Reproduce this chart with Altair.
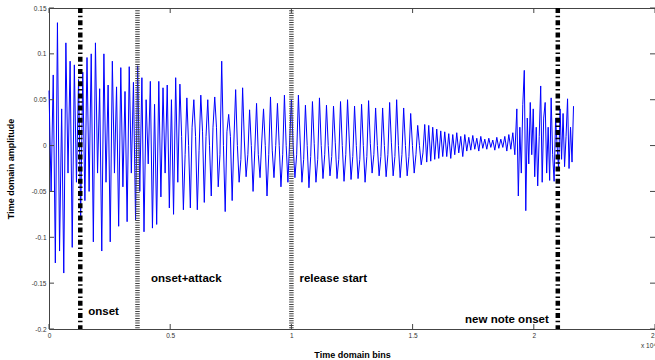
import altair as alt
import pandas as pd

# Waveform samples (amplitude) for each phase of the note.
# Each phase covers [start, end) in time-domain bins; its samples are evenly spaced inside it.
attack_amp = [
    0.060, -0.050, 0.077, -0.128, 0.134, -0.115, 0.040, -0.139, 0.112, -0.030,
    0.092, -0.111, 0.088, -0.040, 0.072, -0.079, 0.080, -0.060, 0.096, -0.050,
    0.100, -0.105, 0.112, -0.030, 0.062, -0.115, 0.100, -0.040, 0.066, -0.105,
    0.092, -0.030, 0.064, -0.088, 0.085, -0.045, 0.059, -0.083, 0.086, -0.030,
    0.069, -0.081, 0.087, -0.050, 0.074, -0.094, 0.050, -0.020, 0.070, -0.090,
    0.045, -0.086, 0.070, -0.056, 0.063, -0.030, 0.066, -0.068, 0.050, -0.075,
    0.074, -0.040,
]
sustain_amp = [
    0.067, 0.010, -0.070, -0.010,
    0.052, 0.000, -0.068, 0.020,
    0.050, 0.010, -0.070, -0.005,
    0.055, 0.015, -0.062, 0.010,
    0.050, 0.000, -0.055, 0.020,
    0.053, 0.020, -0.045, -0.010,
    0.092, 0.000, -0.072, 0.015,
    0.034, 0.010, -0.060, 0.005,
    0.061, 0.000, -0.040, -0.015,
    0.063, 0.005, -0.034, -0.010,
    0.039, 0.000, -0.050, -0.005,
    0.046, -0.010, -0.035, 0.005,
    0.040, 0.000, -0.055, -0.010,
    0.053, -0.005, -0.035, 0.000,
    0.046, 0.000, -0.045, -0.010,
    0.055, 0.000, -0.040, 0.005,
]
release_amp = [
    0.050, 0.000, -0.035, -0.010,
    0.055, 0.005, -0.040, -0.015,
    0.044, 0.000, -0.046, -0.012,
    0.048, 0.002, -0.040, -0.015,
    0.052, 0.000, -0.036, -0.010,
    0.044, 0.000, -0.033, -0.012,
    0.043, 0.003, -0.036, -0.015,
    0.048, 0.000, -0.039, -0.010,
    0.050, 0.005, -0.037, -0.012,
    0.043, 0.000, -0.036, -0.015,
    0.045, 0.000, -0.040, -0.012,
    0.049, 0.002, -0.030, -0.010,
    0.041, 0.000, -0.033, -0.012,
    0.041, 0.000, -0.034, -0.010,
    0.047, 0.003, -0.033, -0.012,
    0.050, 0.000, -0.035, -0.010,
    0.041, 0.000, -0.033, -0.012,
    0.035, 0.000, -0.030, -0.010,
    0.022, 0.000, -0.021, -0.008,
]
decay_amp = [
    0.023, -0.018, 0.022, -0.017, 0.020, -0.015, 0.018, -0.014, 0.016, -0.012,
    0.015, -0.012, 0.013, -0.014, 0.012, -0.010, 0.014, -0.008, 0.010, -0.012,
    0.012, -0.006, 0.009, -0.005, 0.011, -0.004, 0.008, -0.006, 0.010, -0.003,
    0.007, -0.004, 0.008, -0.002, 0.006, -0.005, 0.009, -0.003, 0.007, -0.002,
    0.010, -0.006, 0.012, -0.004, 0.014, -0.010,
]
next_note_amp = [
    0.040, -0.055, 0.020, -0.030, 0.045, 0.082, -0.071, 0.030, -0.020, 0.047,
    -0.010, 0.040, -0.034, 0.020, -0.044, 0.010, 0.065, -0.040, 0.030, 0.047,
    -0.030, 0.020, -0.038, 0.052, -0.010, -0.039, 0.030, 0.000, -0.025, 0.040,
    -0.015, 0.035, -0.023, 0.010, 0.051, -0.025, 0.020, -0.018, 0.043,
]
phase_start = [0, 5400, 10000, 15500, 19300]
phase_end = [5400, 10000, 15500, 19300, 21700]

# Detected events (time-domain bins) and their annotations
event_bin = [1290, 3650, 10000, 20990]
event_style = ["onset", "marker", "marker", "onset"]
event_label = ["onset", "onset+attack", "release start", "new note onset"]
label_level = [-0.185, -0.149, -0.149, -0.1935]

x_ticks = [0, 5000, 10000, 15000, 20000, 25000]
y_ticks = [-0.2, -0.15, -0.1, -0.05, 0, 0.05, 0.1, 0.15]

W, H = 606, 321
FONT = "Liberation Sans"

rows = []
for amps, s, e in zip(
    [attack_amp, sustain_amp, release_amp, decay_amp, next_note_amp],
    phase_start,
    phase_end,
):
    n = len(amps)
    for k, a in enumerate(amps):
        rows.append({"bin": s + (e - s) * k / n, "amp": a})
wave_df = pd.DataFrame(rows)

events_df = pd.DataFrame(
    {"bin": event_bin, "style": event_style, "label": event_label, "amp": label_level}
)

xs = alt.Scale(domain=[0, 25000], nice=False, zero=False)
ys = alt.Scale(domain=[-0.2, 0.15], nice=False, zero=False)

x_axis = alt.Axis(
    values=x_ticks,
    labelExpr="datum.value / 10000",
    title="Time domain bins",
    ticks=False,
    domain=False,
    grid=False,
    labelFlush=False,
    labelPadding=3,
    labelFontSize=6.5,
    labelColor="#333333",
    titleFontSize=9,
    titleFontWeight="bold",
    titleColor="black",
    titleX=W / 2,
    titleY=28,
    titleAlign="center",
    titleBaseline="alphabetic",
)
y_axis = alt.Axis(
    values=y_ticks,
    labelExpr="'' + datum.value",
    title="Time domain amplitude",
    ticks=False,
    domain=False,
    grid=False,
    labelFlush=False,
    labelPadding=3,
    labelFontSize=6.5,
    labelColor="#333333",
    titleFontSize=9,
    titleFontWeight="bold",
    titleColor="black",
    titleX=-34,
    titleY=H / 2,
    titleAlign="center",
    titleBaseline="bottom",
)
X = alt.X("bin:Q", scale=xs, axis=x_axis)
Y = alt.Y("amp:Q", scale=ys, axis=y_axis)

wave = alt.Chart(wave_df).mark_line(color="#0000ff", strokeWidth=1).encode(x=X, y=Y)

onset_lines = (
    alt.Chart(events_df)
    .transform_filter("datum.style == 'onset'")
    .mark_rule(color="black", strokeWidth=4.5, strokeDash=[5, 2.8, 1.5, 2.9])
    .encode(x=X, y=alt.value(0), y2=alt.value(H))
)
marker_lines = (
    alt.Chart(events_df)
    .transform_filter("datum.style == 'marker'")
    .mark_rule(color="#444444", strokeWidth=4.5, strokeDash=[1, 1.33])
    .encode(x=X, y=alt.value(0), y2=alt.value(H))
)


def event_text(labels, align, dx):
    return (
        alt.Chart(events_df)
        .transform_filter(alt.FieldOneOfPredicate(field="label", oneOf=labels))
        .mark_text(
            align=align, baseline="alphabetic", dx=dx,
            font=FONT, fontSize=11.5, fontWeight="bold", color="black",
        )
        .encode(x=X, y=Y, text="label:N")
    )


labels_left = event_text(["onset", "release start"], "left", 8)
labels_attack = event_text(["onset+attack"], "left", 13.5)
labels_right = event_text(["new note onset"], "right", -9)

# Inward-pointing tick marks on all four sides
xt_df = pd.DataFrame({"bin": x_ticks})
yt_df = pd.DataFrame({"amp": y_ticks})
tick_color = "#444444"
ticks_bottom = alt.Chart(xt_df).mark_rule(color=tick_color).encode(
    x=X, y=alt.value(H), y2=alt.value(H - 5)
)
ticks_top = alt.Chart(xt_df).mark_rule(color=tick_color).encode(
    x=X, y=alt.value(0), y2=alt.value(5)
)
ticks_left = alt.Chart(yt_df).mark_rule(color=tick_color).encode(
    y=Y, x=alt.value(0), x2=alt.value(5)
)
ticks_right = alt.Chart(yt_df).mark_rule(color=tick_color).encode(
    y=Y, x=alt.value(W - 5), x2=alt.value(W)
)

exponent = alt.Chart(pd.DataFrame({"t": ["x 10\u2074"]})).mark_text(
    align="left", baseline="alphabetic", font=FONT, fontSize=6.5, color="#333333"
).encode(x=alt.value(W - 14), y=alt.value(H + 19), text="t:N")

chart = (
    alt.layer(
        wave, onset_lines, marker_lines,
        ticks_bottom, ticks_top, ticks_left, ticks_right,
        labels_left, labels_attack, labels_right, exponent,
    )
    .properties(
        width=W,
        height=H,
        padding={"left": 49, "top": 8, "right": 0, "bottom": 31},
        autosize=alt.AutoSizeParams(type="none"),
        background="white",
    )
    .configure_view(stroke="#444444", strokeWidth=1)
    .configure_axis(labelFont=FONT, titleFont=FONT)
)

chart.save("out.html", embed_options={"renderer": "svg", "actions": False})
